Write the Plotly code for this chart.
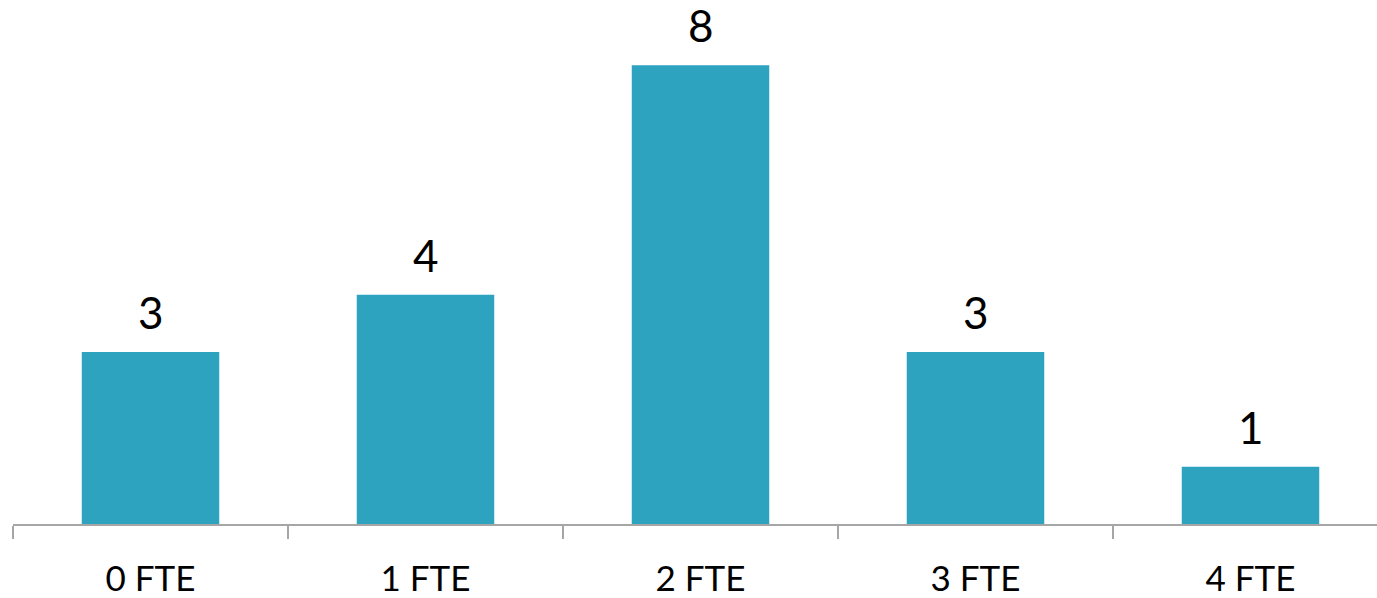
import plotly.graph_objects as go

categories = ["0 FTE", "1 FTE", "2 FTE", "3 FTE", "4 FTE"]
counts = [3, 4, 8, 3, 1]

bar_color = "#2DA3C0"
axis_color = "#A6A6A6"
font_family = "Lato, 'Open Sans', sans-serif"

fig = go.Figure(
    go.Bar(
        x=categories,
        y=counts,
        marker=dict(color=bar_color, line=dict(width=0)),
        width=0.5,
        hoverinfo="skip",
    )
)

# value labels above each bar
for cat, val in zip(categories, counts):
    fig.add_annotation(
        x=cat, y=val, text=str(val), showarrow=False,
        yanchor="bottom", yshift=12,
        font=dict(family=font_family, size=44, color="#000000"),
    )

fig.update_layout(
    width=1377,
    height=598,
    margin=dict(l=13, r=0, t=0, b=70),
    paper_bgcolor="white",
    plot_bgcolor="white",
    showlegend=False,
    bargap=0.5,
    xaxis=dict(
        type="category",
        range=[-0.5, 4.46],
        showline=True,
        linecolor=axis_color,
        linewidth=2,
        ticks="outside",
        tickson="boundaries",
        ticklen=13,
        tickwidth=2,
        tickcolor=axis_color,
        showgrid=False,
        ticklabelstandoff=23,
        tickfont=dict(family=font_family, size=35, color="#000000"),
    ),
    yaxis=dict(
        range=[0, 9.14],
        visible=False,
        showgrid=False,
        zeroline=False,
    ),
)

fig.write_html("out.html")
